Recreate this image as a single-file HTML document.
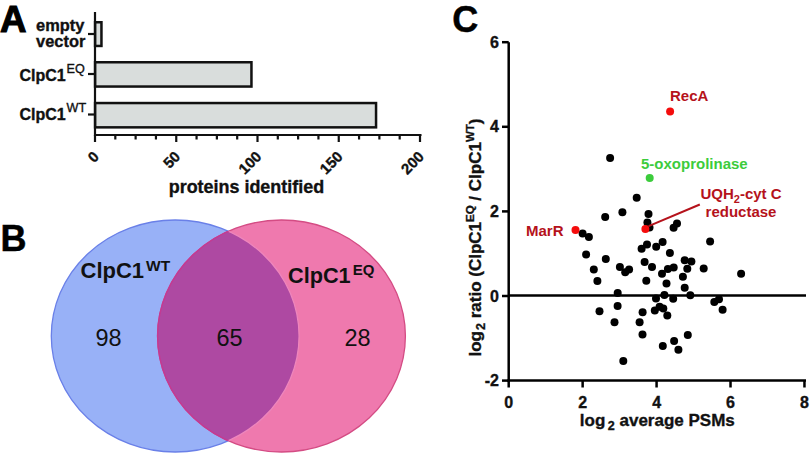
<!DOCTYPE html>
<html><head><meta charset="utf-8">
<style>
html,body{margin:0;padding:0;background:#fff;width:810px;height:454px;overflow:hidden}
svg{display:block;font-family:"Liberation Sans",sans-serif}
.t{stroke:#111;stroke-width:0.35px}
</style></head><body>
<svg width="810" height="454" viewBox="0 0 810 454">
<!-- Panel A -->
<text x="0" y="31.8" font-size="36.7" font-weight="bold" fill="#000" stroke="#000" stroke-width="1.1">A</text>
<g class="t" font-weight="bold" font-size="16.4" fill="#111" text-anchor="end">
<text x="84.3" y="30.7">empty</text>
<text x="85.3" y="46.9">vector</text>
</g>
<g class="t" fill="#111">
<text x="19.5" y="80.8" font-size="16" font-weight="bold">ClpC1<tspan font-size="12.6" font-weight="normal" dy="-8.3" dx="0.8">EQ</tspan></text>
<text x="19.5" y="119.8" font-size="16" font-weight="bold">ClpC1<tspan font-size="12.6" font-weight="normal" dy="-7.8" dx="0.8">WT</tspan></text>
</g>
<g stroke="#111" stroke-width="2.5" fill="#d9dddc">
<rect x="95.1" y="22.25" width="6.35" height="23.7"/>
<rect x="95.1" y="62.25" width="156.35" height="24.3"/>
<rect x="95.1" y="103.05" width="280.95" height="24.3"/>
</g>
<g stroke="#111" stroke-width="2.2" fill="none">
<line x1="95" y1="12" x2="95" y2="136"/>
<line x1="94" y1="135" x2="421.5" y2="135"/>
<line x1="88" y1="34" x2="95" y2="34"/>
<line x1="88" y1="74" x2="95" y2="74"/>
<line x1="88" y1="114.5" x2="95" y2="114.5"/>
<line x1="95.00" y1="135" x2="95.00" y2="142"/><line x1="115.31" y1="135" x2="115.31" y2="139.5"/><line x1="135.62" y1="135" x2="135.62" y2="139.5"/><line x1="155.94" y1="135" x2="155.94" y2="139.5"/><line x1="176.25" y1="135" x2="176.25" y2="142"/><line x1="196.56" y1="135" x2="196.56" y2="139.5"/><line x1="216.88" y1="135" x2="216.88" y2="139.5"/><line x1="237.19" y1="135" x2="237.19" y2="139.5"/><line x1="257.50" y1="135" x2="257.50" y2="142"/><line x1="277.81" y1="135" x2="277.81" y2="139.5"/><line x1="298.12" y1="135" x2="298.12" y2="139.5"/><line x1="318.44" y1="135" x2="318.44" y2="139.5"/><line x1="338.75" y1="135" x2="338.75" y2="142"/><line x1="359.06" y1="135" x2="359.06" y2="139.5"/><line x1="379.38" y1="135" x2="379.38" y2="139.5"/><line x1="399.69" y1="135" x2="399.69" y2="139.5"/><line x1="420.00" y1="135" x2="420.00" y2="142"/>
</g>
<g class="t" font-size="15" font-weight="bold" fill="#111"><text transform="translate(100.00,157.5) rotate(-45)" text-anchor="end">0</text><text transform="translate(181.25,157.5) rotate(-45)" text-anchor="end">50</text><text transform="translate(262.50,157.5) rotate(-45)" text-anchor="end">100</text><text transform="translate(343.75,157.5) rotate(-45)" text-anchor="end">150</text><text transform="translate(425.00,157.5) rotate(-45)" text-anchor="end">200</text></g>
<text class="t" x="168.7" y="192.7" font-size="17.95" font-weight="bold" fill="#111">proteins identified</text>

<!-- Panel B -->
<text x="0.6" y="251.4" font-size="36" font-weight="bold" fill="#000" stroke="#000" stroke-width="0.5">B</text>
<defs><clipPath id="cb"><ellipse cx="175.2" cy="336" rx="123.9" ry="116"/></clipPath><clipPath id="cp"><ellipse cx="281.5" cy="336" rx="123.9" ry="116"/></clipPath></defs>
<ellipse cx="175.2" cy="336" rx="123.9" ry="116" fill="#98b1f7" stroke="#6a80e8" stroke-width="1.3"/>
<ellipse cx="281.5" cy="336" rx="123.9" ry="116" fill="#ef79ae" stroke="#d44c84" stroke-width="1.3"/>
<ellipse cx="281.5" cy="336" rx="123.9" ry="116" fill="#ae49a2" clip-path="url(#cb)"/>
<ellipse cx="175.2" cy="336" rx="123.9" ry="116" fill="none" stroke="#ee86bc" stroke-width="1.3" clip-path="url(#cp)"/>
<ellipse cx="281.5" cy="336" rx="123.9" ry="116" fill="none" stroke="#c43a92" stroke-width="1.5" clip-path="url(#cb)"/>
<g fill="#111" font-weight="bold">
<text x="80.5" y="278.4" font-size="22">ClpC1<tspan font-size="15.5" dy="-7" dx="2">WT</tspan></text>
<text x="288" y="282.9" font-size="21.7">ClpC1<tspan font-size="15" dy="-7.5" dx="2">EQ</tspan></text>
</g>
<g fill="#111" font-size="23.5" text-anchor="middle">
<text x="108.5" y="345.9">98</text>
<text x="229.5" y="345.9">65</text>
<text x="357.6" y="345.9">28</text>
</g>

<!-- Panel C -->
<text x="452.3" y="31.8" font-size="36" font-weight="bold" fill="#000" stroke="#000" stroke-width="0.5">C</text>
<g stroke="#000" stroke-width="2.5" fill="none">
<line x1="508.7" y1="42.3" x2="508.7" y2="381.7"/>
<line x1="507.4" y1="380.5" x2="806" y2="380.5"/>
<line x1="508.7" y1="295.6" x2="806" y2="295.6"/>
<line x1="508.70" y1="380.5" x2="508.70" y2="387.5"/><line x1="582.64" y1="380.5" x2="582.64" y2="387.5"/><line x1="656.58" y1="380.5" x2="656.58" y2="387.5"/><line x1="730.52" y1="380.5" x2="730.52" y2="387.5"/><line x1="804.46" y1="380.5" x2="804.46" y2="387.5"/><line x1="502" y1="42.20" x2="508.7" y2="42.20"/><line x1="502" y1="126.80" x2="508.7" y2="126.80"/><line x1="502" y1="211.40" x2="508.7" y2="211.40"/><line x1="502" y1="296.00" x2="508.7" y2="296.00"/><line x1="502" y1="380.60" x2="508.7" y2="380.60"/>
</g>
<g class="t" font-size="16" font-weight="bold" fill="#111"><text x="508.70" y="407.5" text-anchor="middle">0</text><text x="582.64" y="407.5" text-anchor="middle">2</text><text x="656.58" y="407.5" text-anchor="middle">4</text><text x="730.52" y="407.5" text-anchor="middle">6</text><text x="804.46" y="407.5" text-anchor="middle">8</text><text x="499" y="47.70" text-anchor="end">6</text><text x="499" y="132.30" text-anchor="end">4</text><text x="499" y="216.90" text-anchor="end">2</text><text x="499" y="301.50" text-anchor="end">0</text><text x="499" y="386.10" text-anchor="end">-2</text></g>
<text class="t" x="579.8" y="425.8" font-size="17" font-weight="bold" fill="#111">log<tspan font-size="12.5" dy="4" dx="2.5">2</tspan><tspan dy="-4"> average PSMs</tspan></text>
<text class="t" transform="translate(480.8,356.5) rotate(-90)" font-size="17" font-weight="bold" fill="#111">log<tspan font-size="12.5" dy="4" dx="1">2</tspan><tspan dy="-4"> ratio (ClpC1</tspan><tspan font-size="11.5" dy="-6.5">EQ</tspan><tspan dy="6.5"> / ClpC1</tspan><tspan font-size="11.5" dy="-6.5">WT</tspan><tspan dy="6.5">)</tspan></text>
<g fill="#000"><circle cx="610.1" cy="158.1" r="4"/><circle cx="636.7" cy="197.8" r="4"/><circle cx="622.4" cy="212.3" r="4"/><circle cx="605.2" cy="217.0" r="4"/><circle cx="648.5" cy="213.9" r="4"/><circle cx="647.4" cy="222.6" r="4"/><circle cx="649.5" cy="227.4" r="4"/><circle cx="582.6" cy="233.5" r="4"/><circle cx="588.9" cy="237.0" r="4"/><circle cx="586.1" cy="254.6" r="4"/><circle cx="605.8" cy="259.0" r="4"/><circle cx="593.8" cy="269.6" r="4"/><circle cx="597.4" cy="281.0" r="4"/><circle cx="619.9" cy="266.9" r="4"/><circle cx="625.2" cy="272.2" r="4"/><circle cx="629.1" cy="269.4" r="4"/><circle cx="617.7" cy="293.0" r="4"/><circle cx="641.6" cy="248.8" r="4"/><circle cx="647.0" cy="244.4" r="4"/><circle cx="656.2" cy="246.7" r="4"/><circle cx="662.6" cy="242.0" r="4"/><circle cx="669.9" cy="252.9" r="4"/><circle cx="644.6" cy="262.0" r="4"/><circle cx="652.0" cy="266.9" r="4"/><circle cx="662.0" cy="273.8" r="4"/><circle cx="667.9" cy="269.1" r="4"/><circle cx="673.7" cy="267.4" r="4"/><circle cx="646.3" cy="280.7" r="4"/><circle cx="666.5" cy="283.4" r="4"/><circle cx="664.4" cy="295.1" r="4"/><circle cx="656.0" cy="298.6" r="4"/><circle cx="673.2" cy="298.7" r="4"/><circle cx="673.6" cy="227.7" r="4"/><circle cx="677.0" cy="223.6" r="4"/><circle cx="710.1" cy="241.4" r="4"/><circle cx="684.7" cy="260.3" r="4"/><circle cx="691.4" cy="261.4" r="4"/><circle cx="687.3" cy="268.8" r="4"/><circle cx="703.7" cy="268.4" r="4"/><circle cx="741.1" cy="273.7" r="4"/><circle cx="682.9" cy="276.7" r="4"/><circle cx="684.7" cy="287.8" r="4"/><circle cx="690.3" cy="295.2" r="4"/><circle cx="714.3" cy="302.0" r="4"/><circle cx="719.0" cy="299.2" r="4"/><circle cx="722.6" cy="309.7" r="4"/><circle cx="617.6" cy="306.0" r="4"/><circle cx="599.5" cy="311.3" r="4"/><circle cx="642.6" cy="312.3" r="4"/><circle cx="654.8" cy="310.5" r="4"/><circle cx="659.6" cy="306.8" r="4"/><circle cx="663.3" cy="308.4" r="4"/><circle cx="667.3" cy="315.6" r="4"/><circle cx="614.5" cy="322.3" r="4"/><circle cx="639.6" cy="322.3" r="4"/><circle cx="642.5" cy="334.6" r="4"/><circle cx="687.8" cy="334.9" r="4"/><circle cx="674.1" cy="341.0" r="4"/><circle cx="662.8" cy="346.0" r="4"/><circle cx="678.4" cy="349.8" r="4"/><circle cx="623.3" cy="361.0" r="4"/></g>
<line x1="648.6" y1="226.2" x2="699.8" y2="204.5" stroke="#b5121b" stroke-width="2"/>
<circle cx="575.5" cy="229.9" r="4" fill="#f40c0c"/>
<circle cx="645.4" cy="229.0" r="4" fill="#f40c0c"/>
<circle cx="670.1" cy="111.6" r="4" fill="#f40c0c"/>
<circle cx="649.7" cy="178.1" r="4" fill="#3ccc3c"/>
<g font-size="15" font-weight="bold" fill="#b5121b">
<text x="670" y="101.2">RecA</text>
<text x="526" y="235.6">MarR</text>
<text x="741" y="198.5" text-anchor="middle">UQH<tspan font-size="11" dy="4">2</tspan><tspan dy="-4">-cyt C</tspan></text>
<text x="741" y="217" text-anchor="middle">reductase</text>
</g>
<text x="641" y="168.5" font-size="15" font-weight="bold" fill="#3ccc3c">5-oxoprolinase</text>
</svg>
</body></html>
